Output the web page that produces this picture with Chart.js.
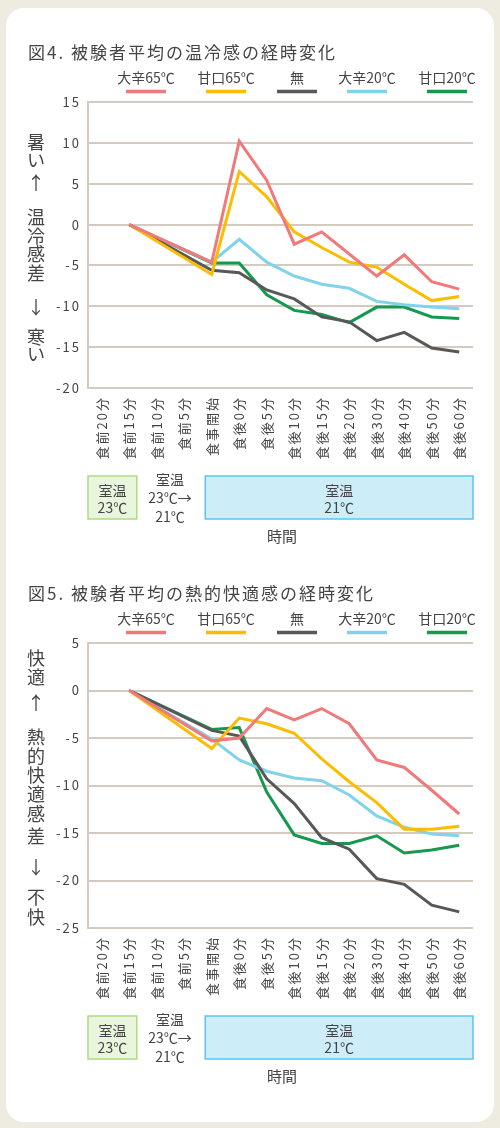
<!DOCTYPE html>
<html>
<head>
<meta charset="utf-8">
<script src="https://cdn.jsdelivr.net/npm/chart.js@4/dist/chart.umd.min.js"></script>
<style>
  html, body { margin: 0; padding: 0; }
  body { width: 500px; height: 1128px; background: #eeebe0; position: relative; overflow: hidden; }
  #card { position: absolute; left: 6px; top: 8px; width: 488px; height: 1114px; background: #fff; border-radius: 18px; }
  canvas { position: absolute; left: 0; }
  #c1 { top: 0; }
  #c2 { top: 560px; }
</style>
</head>
<body>
<div id="card"></div>
<canvas id="c1" width="500" height="560" style="width:500px;height:560px"></canvas>
<canvas id="c2" width="500" height="568" style="width:500px;height:568px"></canvas>
<script>
// x categories
const timeLabels = ['食前20分', '食前15分', '食前10分', '食前5分', '食事開始', '食後0分', '食後5分',
    '食後10分', '食後15分', '食後20分', '食後30分', '食後40分', '食後50分', '食後60分'];
const seriesNames = ['大辛65℃', '甘口65℃', '無', '大辛20℃', '甘口20℃'];

// 図4 温冷感
const warmKara65 = [null, 0, null, null, -4.6, 10.2, 5.4, -2.4, -0.9, -3.6, -6.3, -3.7, -7.0, -7.9];
const warmAma65  = [null, 0, null, null, -6.1, 6.5, 3.4, -0.9, -2.8, -4.6, -5.2, -7.3, -9.3, -8.8];
const warmNone   = [null, 0, null, null, -5.6, -5.9, -8.0, -9.1, -11.3, -11.9, -14.2, -13.2, -15.1, -15.6];
const warmKara20 = [null, 0, null, null, -4.6, -1.8, -4.6, -6.3, -7.3, -7.8, -9.4, -9.8, -10.1, -10.3];
const warmAma20  = [null, 0, null, null, -4.7, -4.7, -8.6, -10.5, -11.0, -12.0, -10.1, -10.1, -11.3, -11.5];

// 図5 熱的快適感
const comfKara65 = [null, 0, null, null, -5.3, -5.0, -1.9, -3.1, -1.9, -3.5, -7.3, -8.1, -10.5, -13.0];
const comfAma65  = [null, 0, null, null, -6.1, -2.9, -3.5, -4.5, -7.2, -9.6, -11.8, -14.6, -14.6, -14.3];
const comfNone   = [null, 0, null, null, -4.2, -4.8, -9.3, -11.9, -15.5, -16.7, -19.8, -20.4, -22.6, -23.3];
const comfKara20 = [null, 0, null, null, -5.1, -7.3, -8.5, -9.2, -9.5, -11.0, -13.2, -14.4, -15.1, -15.3];
const comfAma20  = [null, 0, null, null, -4.1, -3.9, -10.7, -15.2, -16.1, -16.1, -15.3, -17.1, -16.8, -16.3];

const seriesColors = ['#f07a7a', '#fcbd00', '#585858', '#80d3ea', '#16994f'];
const FONT = "'Noto Sans CJK JP', 'Noto Sans', sans-serif";
const TEXT = '#444444';
const GRID = '#d4cac0';

// draws title, legend, vertical y title and the room temperature boxes
const decorPlugin = {
    id: 'decor',
    beforeDraw(chart) {
        chart.ctx.letterSpacing = '2px';
    },
    afterDraw(chart, args, opts) {
        const ctx = chart.ctx;
        const area = chart.chartArea;
        const x = chart.scales.x;
        ctx.save();
        ctx.fillStyle = TEXT;
        ctx.textBaseline = 'middle';

        // title
        ctx.letterSpacing = '2px';
        ctx.textAlign = 'left';
        ctx.font = '17px ' + FONT;
        ctx.fillText(opts.title, 28, area.top - 49);

        // legend
        ctx.letterSpacing = '0px';
        ctx.textAlign = 'center';
        ctx.font = '14px ' + FONT;
        const legendX = [146, 226, 297, 367, 447];
        chart.data.datasets.forEach((ds, i) => {
            ctx.fillStyle = TEXT;
            ctx.fillText(ds.label, legendX[i], area.top - 24);
            ctx.strokeStyle = ds.borderColor;
            ctx.lineWidth = 3.5;
            ctx.beginPath();
            ctx.moveTo(legendX[i] - 20, area.top - 10.5);
            ctx.lineTo(legendX[i] + 20, area.top - 10.5);
            ctx.stroke();
        });

        // vertical y title
        ctx.fillStyle = TEXT;
        ctx.font = '18px ' + FONT;
        opts.yTitle.forEach((ch, i) => {
            ctx.fillText(ch, 36, area.top + opts.yTitleOffsets[i]);
        });

        // room temperature boxes
        const boxTop = area.bottom + 88;
        const boxH = 43;
        const greenRight = x.getPixelForValue(1) + 7.5;
        const blueLeft = x.getPixelForValue(4) - 6.5;
        ctx.lineWidth = 1.5;
        ctx.fillStyle = '#e9f5dd';
        ctx.strokeStyle = '#addb7f';
        ctx.fillRect(area.left, boxTop, greenRight - area.left, boxH);
        ctx.strokeRect(area.left, boxTop, greenRight - area.left, boxH);
        ctx.fillStyle = '#cdedf9';
        ctx.strokeStyle = '#58c6f0';
        ctx.fillRect(blueLeft, boxTop, area.right - blueLeft, boxH);
        ctx.strokeRect(blueLeft, boxTop, area.right - blueLeft, boxH);

        ctx.fillStyle = TEXT;
        ctx.font = '14px ' + FONT;
        const gx = (area.left + greenRight) / 2;
        ctx.fillText('室温', gx, boxTop + 15);
        ctx.fillText('23℃', gx, boxTop + 32);
        const mx = (greenRight + blueLeft) / 2 - 1;
        ctx.fillText('室温', mx, boxTop + 4);
        ctx.fillText('23℃→', mx, boxTop + 22);
        ctx.fillText('21℃', mx, boxTop + 41);
        const bx = (blueLeft + area.right) / 2;
        ctx.fillText('室温', bx, boxTop + 15);
        ctx.fillText('21℃', bx, boxTop + 32);

        ctx.font = '15px ' + FONT;
        ctx.fillText('時間', 282, boxTop + 60);
        ctx.restore();
    }
};

function makeChart(id, values, yMin, yMax, padTop, padBottom, title, yTitle, yTitleOffsets) {
    const datasets = values.map((v, i) => ({
        label: seriesNames[i],
        data: v,
        borderColor: seriesColors[i],
        backgroundColor: seriesColors[i],
        borderWidth: 3,
        pointRadius: 0,
        tension: 0,
        spanGaps: true
    }));
    return new Chart(document.getElementById(id), {
        type: 'line',
        data: { labels: timeLabels, datasets: datasets },
        options: {
            responsive: false,
            animation: false,
            layout: { padding: { top: padTop, right: 27, bottom: padBottom, left: 0 } },
            plugins: {
                legend: { display: false },
                tooltip: { enabled: false },
                decor: { title: title, yTitle: yTitle, yTitleOffsets: yTitleOffsets }
            },
            scales: {
                x: {
                    offset: true,
                    grid: { display: false, drawTicks: false },
                    border: { display: false },
                    afterFit: s => { s.height = 80; },
                    ticks: {
                        autoSkip: false,
                        minRotation: 90,
                        maxRotation: 90,
                        padding: 8,
                        color: TEXT,
                        font: { family: FONT, size: 13 }
                    }
                },
                y: {
                    min: yMin,
                    max: yMax,
                    grid: { color: GRID, lineWidth: 2, drawTicks: false },
                    border: { display: true, color: GRID, width: 2 },
                    afterFit: s => { s.width = 88; },
                    ticks: {
                        stepSize: 5,
                        padding: 7,
                        color: TEXT,
                        font: { family: FONT, size: 13 }
                    }
                }
            }
        },
        plugins: [decorPlugin]
    });
}

makeChart('c1', [warmKara65, warmAma65, warmNone, warmKara20, warmAma20], -20, 15, 102, 92,
    '図4. 被験者平均の温冷感の経時変化',
    ['暑', 'い', '↑', '温', '冷', '感', '差', '↓', '寒', 'い'],
    [40, 58, 81, 115, 134, 152, 171, 205, 235, 252]);

makeChart('c2', [comfKara65, comfAma65, comfNone, comfKara20, comfAma20], -25, 5, 83, 120,
    '図5. 被験者平均の熱的快適感の経時変化',
    ['快', '適', '↑', '熱', '的', '快', '適', '感', '差', '↓', '不', '快'],
    [15, 34, 60, 94, 113, 132, 151, 171, 193, 224, 254, 274]);
</script>
</body>
</html>
